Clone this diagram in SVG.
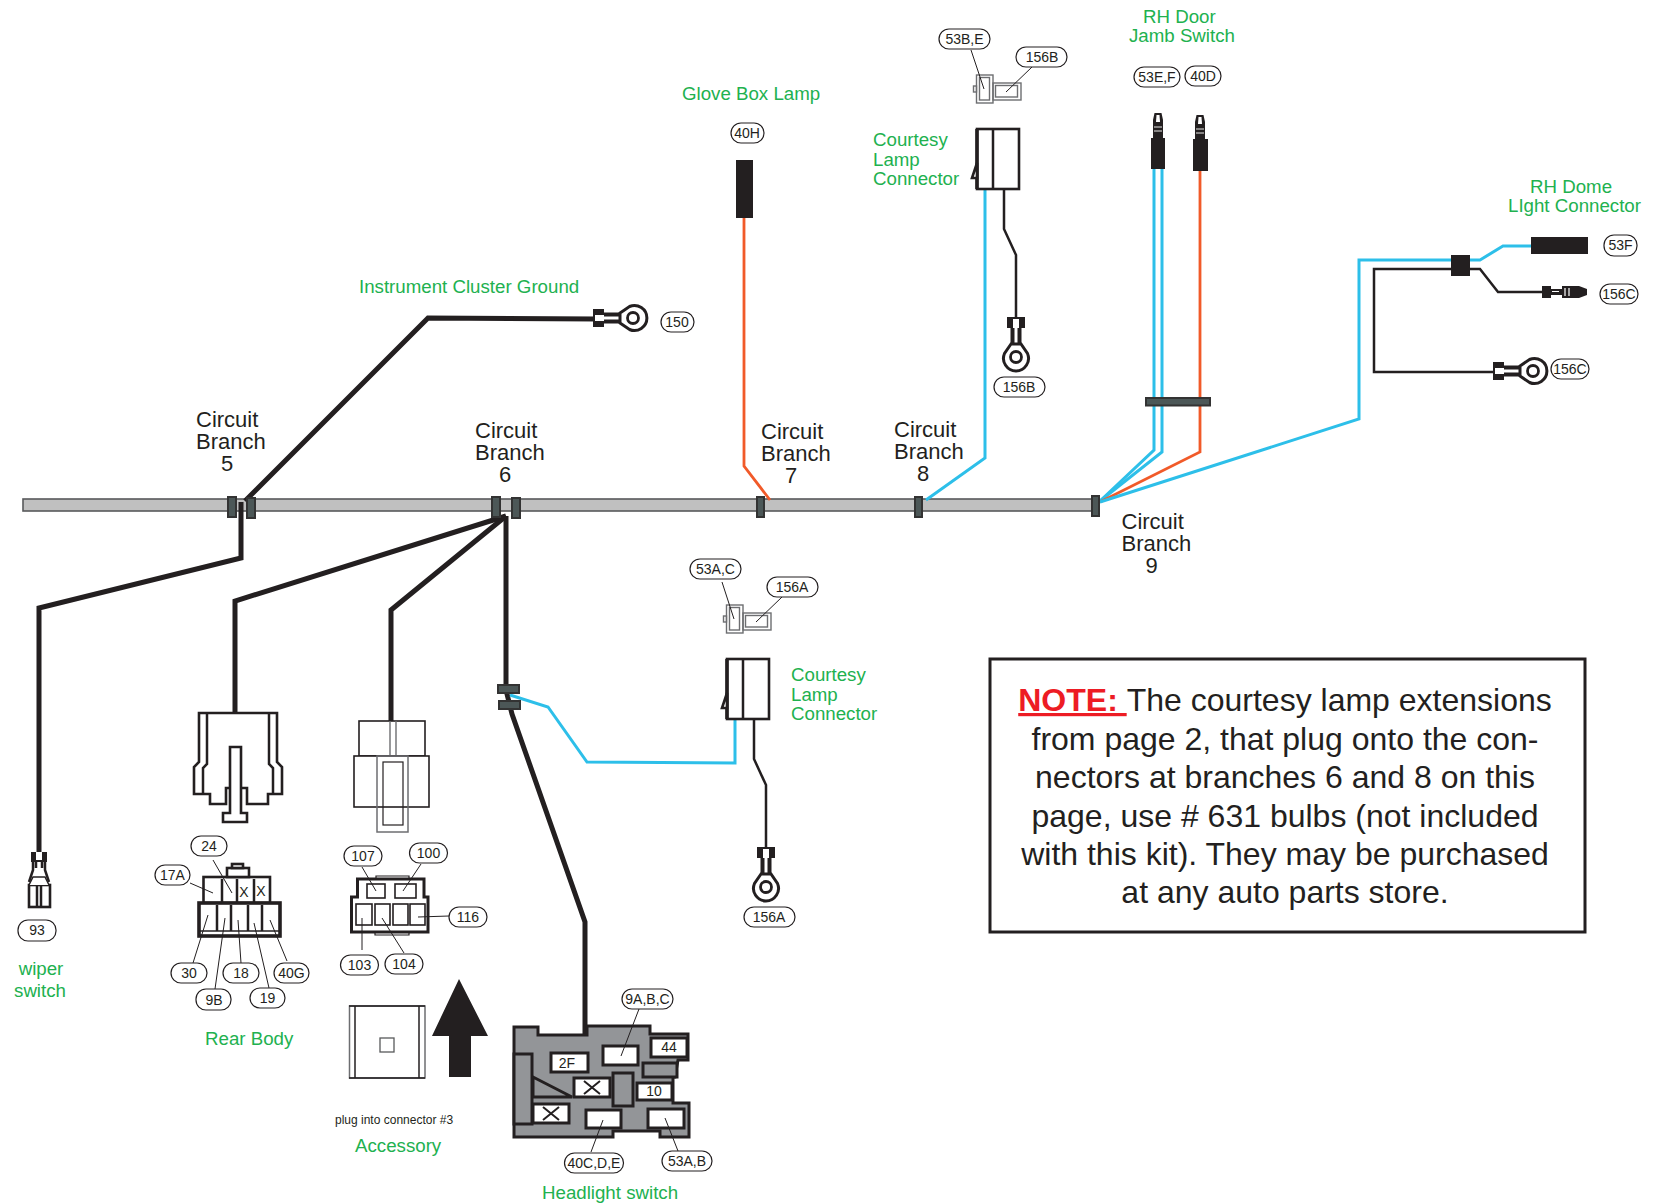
<svg xmlns="http://www.w3.org/2000/svg" xmlns:xlink="http://www.w3.org/1999/xlink" width="1670" height="1203" viewBox="0 0 1670 1203">
<style>
text{font-family:"Liberation Sans",Arial,sans-serif;fill:#231f20}
.g{fill:#21b14f;font-size:18.7px}
.b{font-size:22px}
.p{font-size:14px;text-anchor:middle}
.pill{fill:#fff;stroke:#231f20;stroke-width:1.2}
.h{fill:none;stroke:#231f20;stroke-width:5;stroke-linejoin:miter}
.k{fill:none;stroke:#231f20;stroke-width:2.5}
.c{fill:none;stroke:#2dbfe9;stroke-width:3}
.o{fill:none;stroke:#f15a29;stroke-width:2.8}
.l{fill:none;stroke:#231f20;stroke-width:1}
.clip{fill:#4c5757;stroke:#333;stroke-width:2}
.sh{fill:#fff;stroke:#231f20;stroke-width:2.6}
.hs{fill:#939598;stroke:#231f20;stroke-width:3}
.w{fill:#fff;stroke:#231f20;stroke-width:3}
.s{fill:#fff;stroke:#231f20;stroke-width:1.6}
.t{fill:none;stroke:#6d6e71;stroke-width:1.4}
.n{font-size:32px;text-anchor:middle}
</style>
<defs>
<g id="ring">
<path d="M-5-13L-11.500-3.500A12.500 12.500 0 1 0 11.500-3.500L5-13Z" fill="#fff" stroke="#231f20" stroke-width="3"/>
<circle r="5.500" fill="#fff" stroke="#231f20" stroke-width="2.800"/>
<rect x="-5.500" y="-32" width="4" height="20" fill="#231f20"/><rect x="1.500" y="-32" width="4" height="20" fill="#231f20"/>
<rect x="-9" y="-40" width="18" height="11" fill="#231f20"/><rect x="-3" y="-38" width="6" height="9" fill="#fff"/>
</g>
<g id="lamp">
<rect x="727" y="659" width="42" height="60" class="sh"/>
<path d="M743 659V719" class="k"/>
<path d="M727 659V719" fill="none" stroke="#231f20" stroke-width="3.600"/>
<path d="M727 693L722 708H727Z" class="sh"/>
<path d="M754 719V759L766 785V848" class="k"/>
<use xlink:href="#ring" x="766" y="887"/>
</g>
<g id="mini">
<rect x="723.500" y="616" width="3" height="6" class="t"/>
<rect x="726.500" y="605" width="16.500" height="28" class="t"/>
<rect x="729.500" y="607.500" width="10" height="22.500" class="t"/>
<rect x="743" y="613" width="28" height="17" class="t"/>
<rect x="745.500" y="615.500" width="22" height="11.500" class="t"/>
</g>
<g id="pin">
<path d="M-5 0V-18L-3.500-25H3.500L5-18V0Z" fill="#231f20"/>
<path d="M-4-11H4M-4-7H4" stroke="#fff" stroke-width=".9"/>
<path d="M-1.500-23H1.500L2-16H-2Z" fill="#fff"/>
</g>
</defs>

<g id="trunk"><rect x="23" y="499" width="1073" height="12" fill="#c0c0c0" stroke="#58595b" stroke-width="1.600"/></g>

<g id="connectors">
<path class="h" d="M245 501L428 318L597 319"/>
<path class="h" d="M241 502V558L39 608V853"/>
<path class="h" d="M506 516L235 601V713"/>
<path class="h" d="M506 516L391 610V722"/>
<path class="h" d="M506 516V690L512 714L585 922V1036"/>
<path class="c" d="M510 695L548 707L587 762L735 763V719"/>
<path class="o" d="M744 218V466L770 500"/>
<path class="c" d="M985 190V458L926 500"/>
<path class="c" d="M1154 168V450L1100 501"/>
<path class="c" d="M1162 168V452L1100 501"/>
<path class="o" d="M1200 170V452L1100 502"/>
<path class="c" d="M1100 502L1359 419V260H1480L1503 246H1532"/>
<path class="k" d="M1452 269H1480L1498 292H1543"/>
<path class="k" d="M1452 269H1374V372H1494"/>
</g>

<g id="clips">
<rect class="clip" x="228" y="497" width="8" height="20"/>
<rect class="clip" x="247" y="498" width="8" height="20"/>
<rect class="clip" x="492" y="497" width="8" height="20"/>
<rect class="clip" x="512" y="498" width="8" height="20"/>
<rect class="clip" x="757" y="497" width="7" height="20"/>
<rect class="clip" x="915" y="497" width="7" height="20"/>
<rect class="clip" x="1092" y="496" width="7" height="20"/>
<rect class="clip" x="498" y="685" width="21" height="8"/>
<rect class="clip" x="499" y="701" width="21" height="8"/>
<rect class="clip" x="1146" y="398" width="64" height="7.500"/>
</g>

<g id="branch5"><text class="b" x="196" y="427">Circuit</text><text class="b" x="196" y="449">Branch</text><text class="b" x="221" y="471">5</text></g>
<g id="branch6"><text class="b" x="475" y="438">Circuit</text><text class="b" x="475" y="460">Branch</text><text class="b" x="499" y="482">6</text></g>
<g id="branch7"><text class="b" x="761" y="439">Circuit</text><text class="b" x="761" y="461">Branch</text><text class="b" x="785" y="483">7</text></g>
<g id="branch8"><text class="b" x="894" y="437">Circuit</text><text class="b" x="894" y="459">Branch</text><text class="b" x="917" y="481">8</text></g>
<g id="branch9"><text class="b" x="1121.500" y="529">Circuit</text><text class="b" x="1121.500" y="551">Branch</text><text class="b" x="1145.500" y="573">9</text></g>

<g id="ground150">
<text class="g" x="359" y="293">Instrument Cluster Ground</text>
<use xlink:href="#ring" transform="translate(633 318) rotate(-90)"/>
<rect class="pill" x="661" y="312" width="33" height="20" rx="10"/><text class="p" x="677" y="327">150</text>
</g>

<g id="glovebox">
<text class="g" x="682" y="100">Glove Box Lamp</text>
<rect class="pill" x="731" y="123" width="33" height="20" rx="10"/><text class="p" x="747" y="138">40H</text>
<rect x="736" y="160" width="17" height="58" fill="#231f20"/>
</g>

<g id="courtesyB">
<use xlink:href="#mini" transform="translate(250 -530)"/>
<use xlink:href="#lamp" transform="translate(250 -530)"/>
<path class="l" d="M971 50L984 89M1032 67L1006 92"/>
<rect class="pill" x="939" y="29" width="51" height="20" rx="10"/><text class="p" x="964.500" y="44">53B,E</text>
<rect class="pill" x="1016" y="47" width="51" height="20" rx="10"/><text class="p" x="1042" y="62">156B</text>
<rect class="pill" x="994" y="377" width="51" height="20" rx="10"/><text class="p" x="1019" y="392">156B</text>
<text class="g" x="873" y="146">Courtesy</text><text class="g" x="873" y="166">Lamp</text><text class="g" x="873" y="185">Connector</text>
</g>

<g id="doorjamb">
<text class="g" x="1143" y="23">RH Door</text><text class="g" x="1129" y="42">Jamb Switch</text>
<rect class="pill" x="1134" y="67" width="46" height="20" rx="10"/><text class="p" x="1157" y="82">53E,F</text>
<rect class="pill" x="1185" y="66" width="36" height="20" rx="10"/><text class="p" x="1203" y="81">40D</text>
<use xlink:href="#pin" x="1158" y="138"/><rect x="1151" y="138" width="14" height="31" fill="#231f20"/>
<use xlink:href="#pin" x="1200" y="140"/><rect x="1193" y="139" width="15" height="32" fill="#231f20"/>
</g>

<g id="dome">
<text class="g" x="1530" y="193">RH Dome</text><text class="g" x="1508" y="212">LIght Connector</text>
<rect x="1451" y="255" width="19" height="21" fill="#231f20"/>
<rect x="1531" y="237" width="57" height="17" fill="#231f20"/>
<rect class="pill" x="1604" y="235" width="33" height="21" rx="10"/><text class="p" x="1620.500" y="250">53F</text>
<path d="M1542 286H1551V289H1562V286H1579L1587 289V295L1579 298H1562V295H1551V298H1542Z" fill="#231f20"/>
<path d="M1552 291.500H1559M1565 288V296M1569 288V296" stroke="#fff" stroke-width="1.200"/>
<rect class="pill" x="1600" y="284" width="38" height="20" rx="10"/><text class="p" x="1619" y="299">156C</text>
<use xlink:href="#ring" transform="translate(1533 371) rotate(-90)"/>
<rect class="pill" x="1551" y="359" width="38" height="20" rx="10"/><text class="p" x="1570" y="374">156C</text>
</g>

<g id="courtesyA">
<use xlink:href="#mini"/>
<use xlink:href="#lamp"/>
<path class="l" d="M722 582L734 619M782 597L756 622"/>
<rect class="pill" x="690" y="559" width="51" height="20" rx="10"/><text class="p" x="715.500" y="574">53A,C</text>
<rect class="pill" x="767" y="577" width="51" height="20" rx="10"/><text class="p" x="792" y="592">156A</text>
<rect class="pill" x="744" y="907" width="51" height="20" rx="10"/><text class="p" x="769" y="922">156A</text>
<text class="g" x="791" y="681">Courtesy</text><text class="g" x="791" y="701">Lamp</text><text class="g" x="791" y="720">Connector</text>
</g>

<g id="note">
<rect x="990" y="659" width="595" height="273" fill="#fff" stroke="#231f20" stroke-width="3"/>
<text class="n" x="1285" y="711"><tspan font-weight="bold" text-decoration="underline" style="fill:#ed1c24">NOTE: </tspan>The courtesy lamp extensions</text>
<text class="n" x="1285" y="750">from page 2, that plug onto the con-</text>
<text class="n" x="1285" y="788">nectors at branches 6 and 8 on this</text>
<text class="n" x="1285" y="827">page, use # 631 bulbs (not included</text>
<text class="n" x="1285" y="865">with this kit). They may be purchased</text>
<text class="n" x="1285" y="903">at any auto parts store.</text>
</g>

<g id="wiper">
<rect x="31" y="852" width="16" height="10" fill="#231f20"/><rect x="36" y="852" width="6" height="8" fill="#fff"/>
<path d="M33 862V870L29 882M45 862V870L49 882M36 862V868M42 862V868" class="k"/>
<rect x="29" y="885" width="21" height="22" class="sh"/>
<path d="M37 885V907M41 885V907" class="k"/>
<path d="M29 885L33 877H45L49 885" fill="#fff" stroke="#231f20" stroke-width="1.500"/>
<rect class="pill" x="18" y="920" width="38" height="21" rx="10"/><text class="p" x="37" y="935">93</text>
<text class="g" x="41" y="975" text-anchor="middle">wiper</text><text class="g" x="40" y="997" text-anchor="middle">switch</text>
</g>

<g id="rearbody">
<path class="sh" d="M199 713H277V762L282 767V794H268V804H247V788H226V804H210V794H194V767L199 762Z"/>
<path class="k" d="M207 713V764L203 768V794M269 713V764L273 768V794"/>
<path class="sh" d="M230 747H241V813H247V822H223V813H230Z"/>
<rect class="sh" x="203.500" y="877" width="66.500" height="26"/>
<rect class="sh" x="227" y="868" width="22" height="9"/><rect class="sh" x="232" y="864" width="11" height="4"/>
<path class="k" d="M222 879V903M237 879V903M254 879V903"/>
<rect x="199" y="903" width="81" height="33" fill="#fff" stroke="#231f20" stroke-width="3.600"/>
<path class="k" d="M217 905V931M231 905V931M248 905V931M262 905V931"/>
<path d="M199 931H280" stroke="#231f20" stroke-width="1.500"/>
<text x="244" y="897" font-size="14" text-anchor="middle">X</text><text x="261" y="896" font-size="14" text-anchor="middle">X</text>
<path class="l" d="M213 860L232 893M190 883L213 893M208 915L193 963M225 918L215 989M238 920L241 963M254 923L269 988M270 920L287 961"/>
<rect class="pill" x="191" y="836" width="36" height="20" rx="10"/><text class="p" x="209" y="851">24</text>
<rect class="pill" x="155" y="865" width="35" height="20" rx="10"/><text class="p" x="172.500" y="880">17A</text>
<rect class="pill" x="171" y="963" width="36" height="20" rx="10"/><text class="p" x="189" y="978">30</text>
<rect class="pill" x="196" y="989" width="35" height="21" rx="10"/><text class="p" x="214" y="1005">9B</text>
<rect class="pill" x="223" y="963" width="36" height="20" rx="10"/><text class="p" x="241" y="978">18</text>
<rect class="pill" x="250" y="988" width="35" height="20" rx="10"/><text class="p" x="267.500" y="1003">19</text>
<rect class="pill" x="274" y="963" width="35" height="20" rx="10"/><text class="p" x="291.500" y="978">40G</text>
<text class="g" x="205" y="1045">Rear Body</text>
</g>

<g id="connector116">
<rect class="s" x="359" y="721" width="66" height="35"/>
<path class="t" d="M390 721V756M396 721V756"/>
<rect class="s" x="354" y="756" width="75" height="51"/>
<rect x="377" y="756" width="31" height="76" fill="none" stroke="#6d6e71" stroke-width="1.500"/>
<rect x="383" y="762" width="20" height="63" fill="none" stroke="#231f20" stroke-width="1.200"/>
<path d="M376 879V876H409V879M375 932V935H409V932" fill="none" stroke="#231f20" stroke-width="1.200"/>
<path class="sh" style="stroke-width:3" d="M357.500 879H424V897H428V932H351.500V897H357.500Z"/>
<rect class="s" x="367" y="884" width="18" height="14"/><rect class="s" x="395" y="884" width="21" height="14"/>
<rect class="s" x="356" y="904" width="16" height="21"/><rect class="s" x="375" y="904" width="15" height="21"/><rect class="s" x="393" y="904" width="15" height="21"/><rect class="s" x="410" y="904" width="15" height="21"/>
<path class="l" d="M362 867L376 891M421 864L403 891M449 916L418 917M362 918V950M382 918L404 953"/>
<rect class="pill" x="344" y="846" width="38" height="20" rx="10"/><text class="p" x="363" y="861">107</text>
<rect class="pill" x="409.500" y="843" width="38" height="20" rx="10"/><text class="p" x="428.500" y="858">100</text>
<rect class="pill" x="449" y="907" width="38" height="20" rx="10"/><text class="p" x="468" y="922">116</text>
<rect class="pill" x="340.500" y="955" width="38" height="20" rx="10"/><text class="p" x="359.500" y="970">103</text>
<rect class="pill" x="385" y="954" width="38" height="20" rx="10"/><text class="p" x="404" y="969">104</text>
</g>

<g id="accessory">
<rect x="349.500" y="1006" width="75.500" height="72" fill="#fff" stroke="#6d6e71" stroke-width="1.500"/>
<path d="M355 1006V1078M419 1006V1078M349 1006H425M349 1078H425" fill="none" stroke="#231f20" stroke-width="1.500"/>
<rect x="380" y="1038" width="14" height="14" fill="#fff" stroke="#58595b" stroke-width="1.300"/>
<path d="M459 979L488 1036H471V1077H449V1036H432Z" fill="#231f20"/>
<text x="335" y="1124" font-size="12px">plug into connector #3</text>
<text class="g" x="355" y="1152">Accessory</text>
</g>

<g id="headlight">
<path class="hs" d="M514 1027H538V1035H587V1026H650V1034H688V1060H678L675 1077H673V1103H689V1137H660V1131H613V1137H514Z"/>
<rect class="hs" x="514" y="1054" width="18" height="70"/>
<path class="hs" d="M533 1077L572 1097H533Z"/>
<rect class="hs" x="643" y="1063" width="34" height="14"/>
<rect class="hs" x="613" y="1073" width="20" height="33"/>
<rect class="w" x="551" y="1053" width="37" height="19"/><text class="p" x="567" y="1068">2F</text>
<rect class="w" x="603" y="1046" width="35" height="19"/>
<rect class="w" x="651" y="1038" width="36" height="19"/><text class="p" x="669" y="1052">44</text>
<rect class="w" x="574" y="1078" width="36" height="19"/><path d="M584 1081L600 1094M600 1081L584 1094" stroke="#231f20" stroke-width="2"/>
<rect class="w" x="637" y="1083" width="35" height="17"/><text class="p" x="654" y="1096">10</text>
<rect class="w" x="533" y="1104" width="36" height="19"/><path d="M543 1107L559 1120M559 1107L543 1120" stroke="#231f20" stroke-width="2"/>
<rect class="w" x="586" y="1110" width="35" height="18"/>
<rect class="w" x="648" y="1109" width="36" height="19"/>
<path class="l" d="M639 1009L621 1056M591 1152L603 1120M678 1151L665 1118"/>
<rect class="pill" x="622" y="989" width="51" height="20" rx="10"/><text class="p" x="647.500" y="1004">9A,B,C</text>
<rect class="pill" x="564.500" y="1153" width="59" height="20" rx="10"/><text class="p" x="594" y="1168">40C,D,E</text>
<rect class="pill" x="662" y="1151" width="50" height="20" rx="10"/><text class="p" x="687" y="1166">53A,B</text>
<text class="g" x="542" y="1199">Headlight switch</text>
</g>
</svg>
